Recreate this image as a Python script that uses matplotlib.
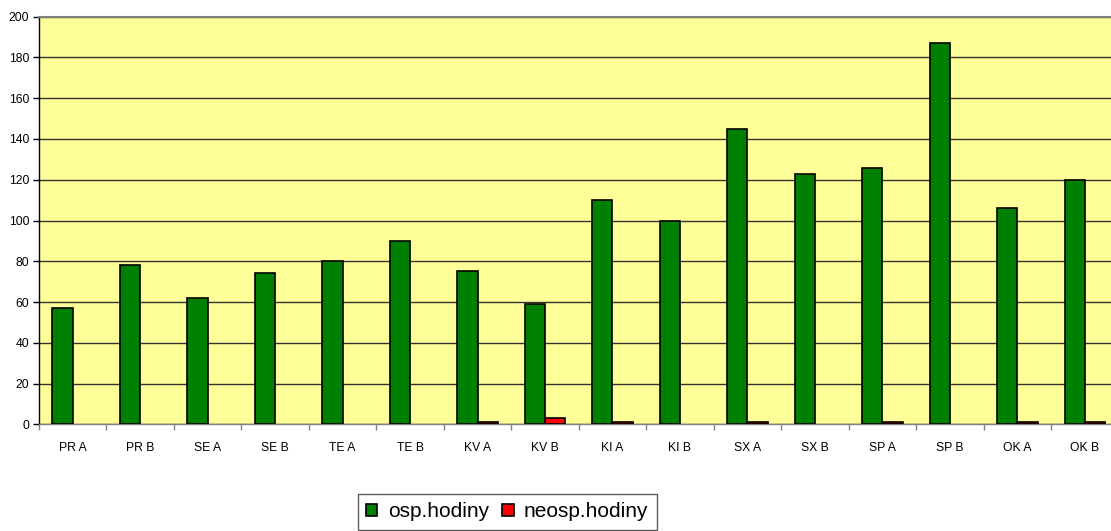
import matplotlib
matplotlib.use("Agg")
import matplotlib.pyplot as plt
from matplotlib.patches import Patch
import numpy as np

categories = ["PR A", "PR B", "SE A", "SE B", "TE A", "TE B", "KV A", "KV B",
              "KI A", "KI B", "SX A", "SX B", "SP A", "SP B", "OK A", "OK B"]
osp_hodiny = [57, 78, 62, 74, 80, 90, 75, 59, 110, 100, 145, 123, 126, 187, 106, 120]
neosp_hodiny = [0, 0, 0, 0, 0, 0, 1, 3, 1, 0, 1, 0, 1, 0, 1, 1]
series_names = ["osp.hodiny", "neosp.hodiny"]
series_colors = ["#008000", "#FF0000"]
yticks = list(range(0, 201, 20))

plt.rcParams['font.family'] = ['Liberation Sans', 'DejaVu Sans']

fig = plt.figure(figsize=(11.11, 5.31), dpi=100)
W, H = 1111, 531
left, right, top, bottom = 39, 1118.5, 16.7, 424.3
ax = fig.add_axes([left / W, (H - bottom) / H, (right - left) / W, (bottom - top) / H])
ax.set_facecolor("#FFFF99")

x = np.arange(len(categories))
bw = 0.3
lw_osp = [1.2 if v > 0 else 0 for v in osp_hodiny]
lw_neo = [1.2 if v > 0 else 0 for v in neosp_hodiny]
ax.bar(x - bw / 2, osp_hodiny, bw, color=series_colors[0], edgecolor="black",
       linewidth=lw_osp, zorder=3)
ax.bar(x + bw / 2, neosp_hodiny, bw, color=series_colors[1], edgecolor="black",
       linewidth=lw_neo, zorder=3)

ax.set_xlim(-0.5, len(categories) - 0.5)
ax.set_ylim(0, 200)
ax.set_yticks(yticks)
ax.set_yticklabels([str(v) for v in yticks], fontsize=8.7)
ax.yaxis.grid(True, color="#333333", linewidth=1, zorder=1)
ax.set_axisbelow(True)

ax.set_xticks(x)
ax.set_xticklabels(categories, fontsize=8.7)
ax.set_xticks(np.arange(-0.5, len(categories), 1), minor=True)
ax.tick_params(axis="x", which="major", length=0, pad=13)
ax.tick_params(axis="x", which="minor", length=4, color="#808080", width=1)
ax.tick_params(axis="y", length=4, width=1, pad=3)

ax.spines["top"].set_color("#808080")
ax.spines["top"].set_linewidth(1.5)
ax.spines["right"].set_visible(False)
ax.spines["left"].set_color("black")
ax.spines["left"].set_linewidth(1)
ax.spines["bottom"].set_color("#808080")
ax.spines["bottom"].set_linewidth(1)

handles = [Patch(facecolor=c, edgecolor="black", linewidth=1.2, label=n)
           for n, c in zip(series_names, series_colors)]
leg = fig.legend(handles=handles, loc="upper left",
                 bbox_to_anchor=(358 / W, (H - 494) / H), ncol=2,
                 fontsize=15, frameon=True, fancybox=False,
                 handlelength=0.53, handleheight=0.53, handletextpad=0.5,
                 columnspacing=0.65, borderpad=0.4, borderaxespad=0)
leg.get_frame().set_linewidth(1)
leg.get_frame().set_edgecolor("#333333")

fig.savefig("out.png", dpi=100)
